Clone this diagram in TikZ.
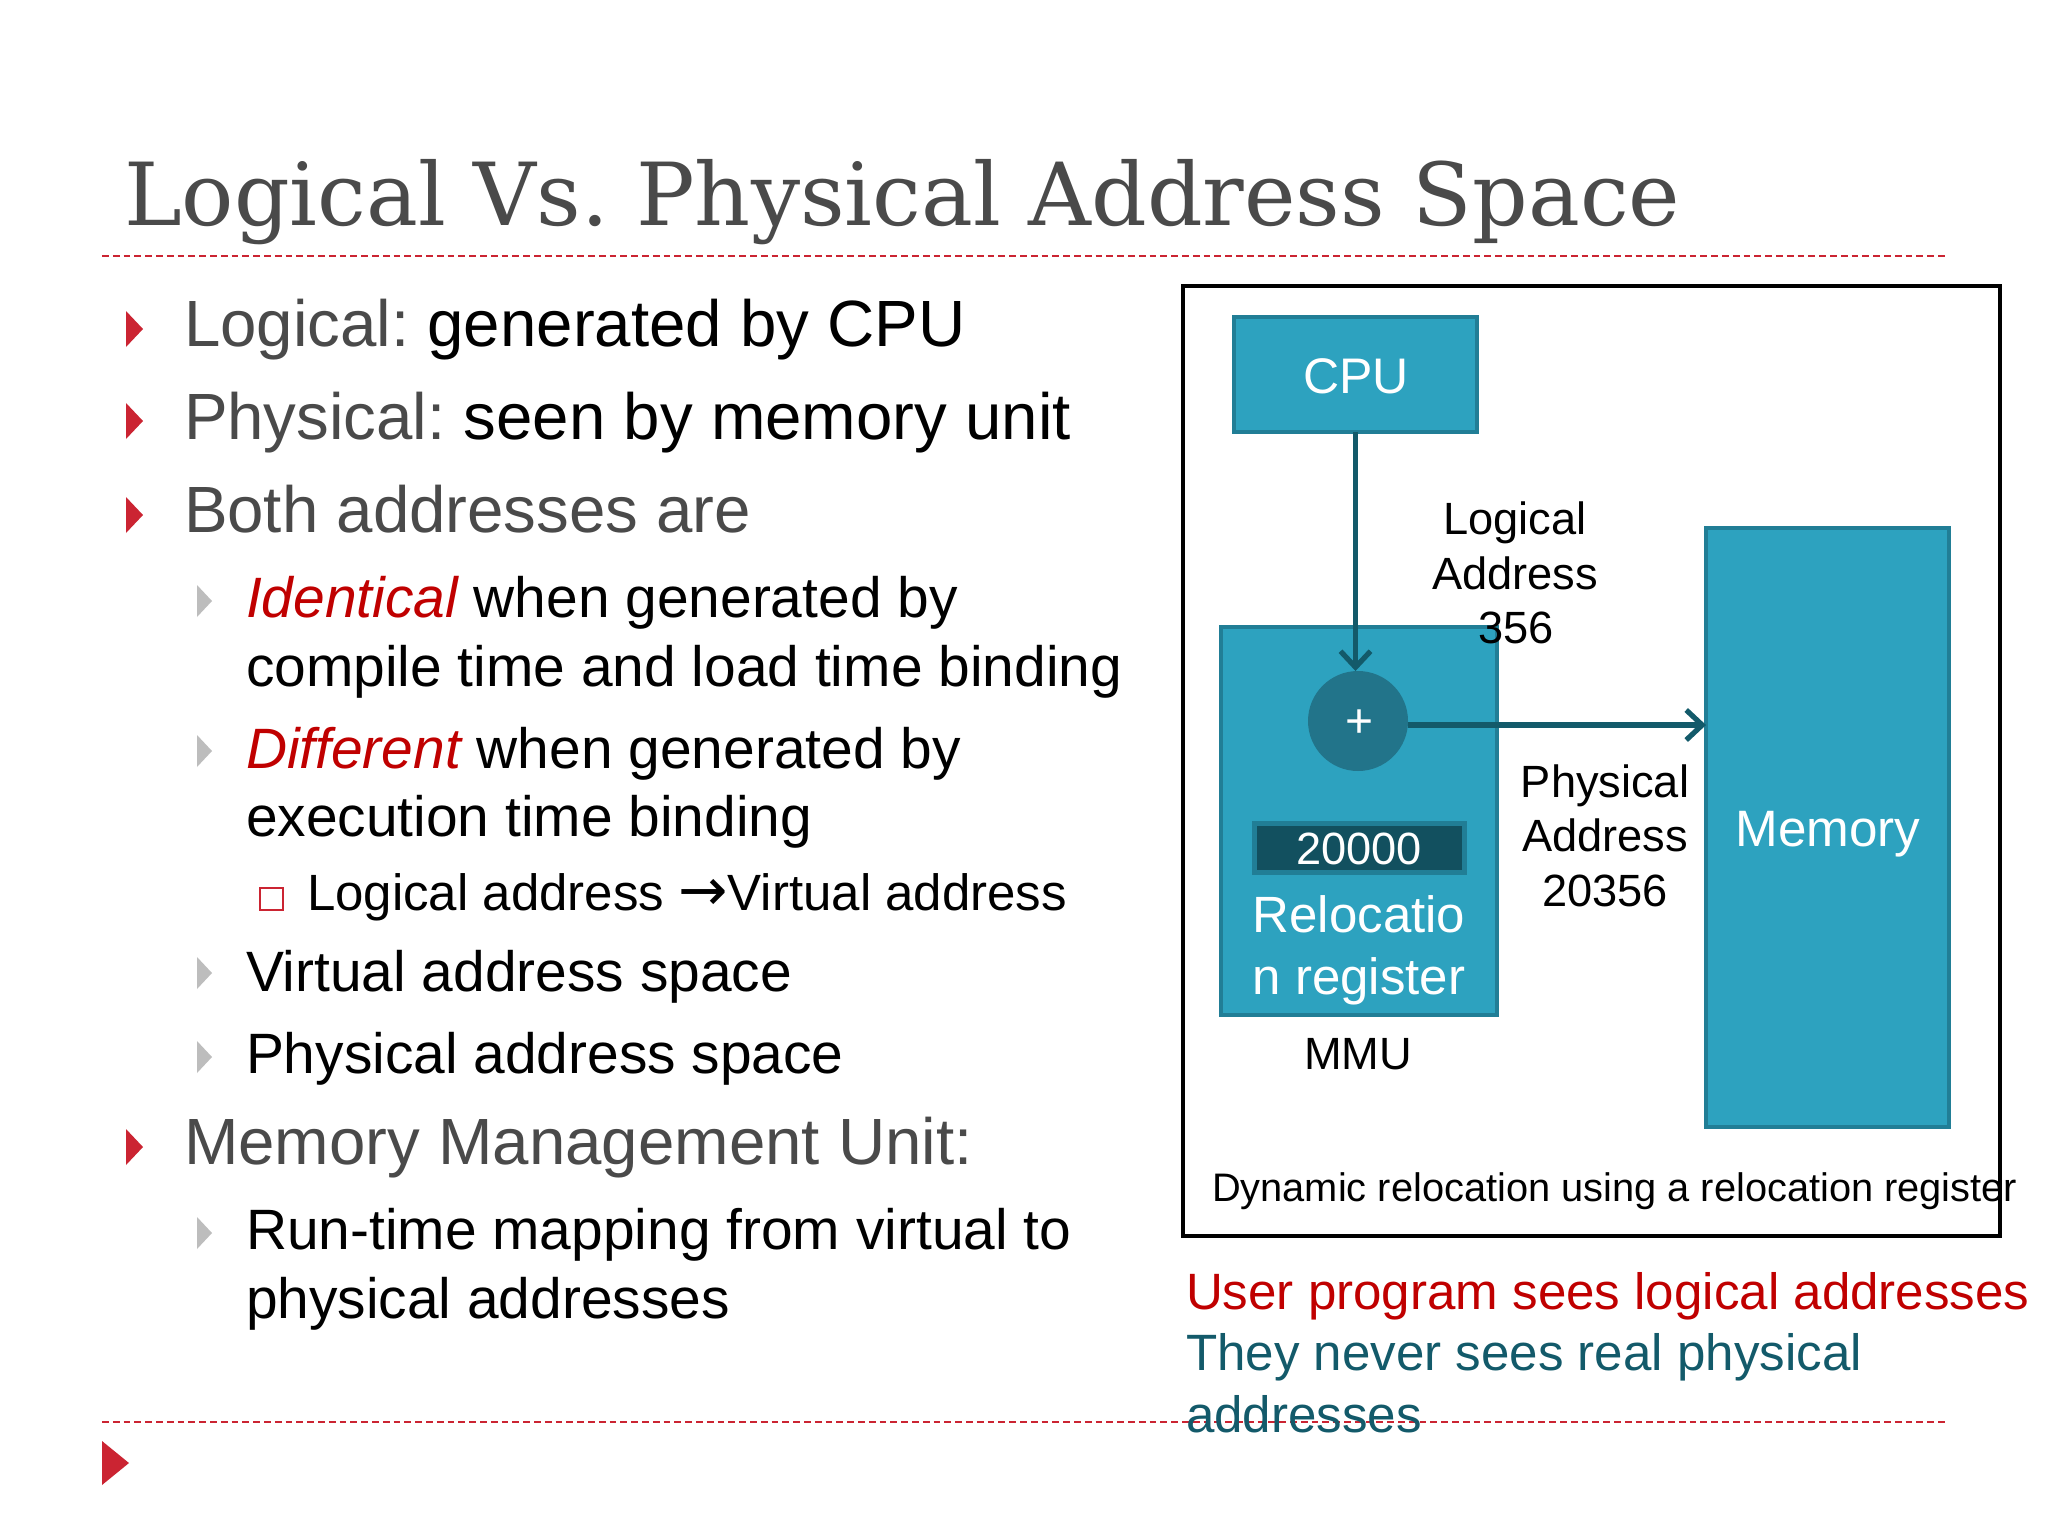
\documentclass[tikz,border=0pt]{standalone}
\usepackage{fontspec}
\setmainfont{Liberation Sans}
\newfontfamily\titlefont{DejaVu Serif}
\newfontfamily\arrowfont{DejaVu Sans}
\usetikzlibrary{arrows.meta}
\definecolor{teal1}{HTML}{2DA2BF}
\definecolor{tealedge}{HTML}{217E96}
\definecolor{tealdark}{HTML}{135A6A}
\definecolor{tealcirc}{HTML}{22748A}
\definecolor{regbox}{HTML}{12505F}
\definecolor{redm}{HTML}{C00000}
\definecolor{redb}{HTML}{CB2432}
\definecolor{gray1}{HTML}{4A4A4A}
\definecolor{gray2}{HTML}{BDBDBD}
\newcommand{\fs}[1]{\fontsize{#1}{#1}\selectfont}
\frenchspacing
\tikzset{
  x=0.5pt,y=-0.5pt,
  txt/.style={inner sep=0pt,outer sep=0pt,anchor=base west},
  cen/.style={inner sep=0pt,outer sep=0pt,anchor=base},
  lone/.style={txt,font=\fs{32.7}},
  ltwo/.style={txt,font=\fs{28.45}},
  lthree/.style={txt,font=\fs{25.5}},
  diag/.style={cen,font=\fs{22.6}},
  wtxt/.style={cen,text=white,font=\fs{25.5}},
  block/.style={draw=tealedge,fill=teal1,line width=1.8pt,inner sep=0pt,outer sep=0pt,anchor=north west},
  conn/.style={draw=tealdark,line width=2.8pt,-{Straight Barb[length=8pt,width=15pt,line width=2.6pt]}},
  rule/.style={draw=redb,line width=0.6pt,dash pattern=on 3.4pt off 2pt},
  redtri/.style={fill=redb},
  graytri/.style={fill=gray2},
}
\newcommand{\redbul}[1]{\fill[redtri] (126,#1-18) -- (143,#1) -- (126,#1+18) -- cycle;}
\newcommand{\graybul}[1]{\fill[graytri] (197,#1-16) -- (212,#1) -- (197,#1+16) -- cycle;}
\begin{document}
\begin{tikzpicture}
\useasboundingbox (0,0) rectangle (2048,1536);
\fill[white] (0,0) rectangle (2048,1536);
% title and rules
\node[txt,text=gray1,font={\titlefont\fs{43.5}}] (title) at (124,225) {Logical Vs. Physical Address Space};
\coordinate (r1a) at (102,256); \coordinate (r1b) at (1946,256);
\coordinate (r2a) at (102,1422); \coordinate (r2b) at (1946,1422);
\draw[rule] (r1a) -- (r1b);
\draw[rule] (r2a) -- (r2b);
% bullets
\redbul{329}\redbul{421}\redbul{515}\redbul{1147}
\graybul{601}\graybul{751}\graybul{973}\graybul{1057}\graybul{1233}
\draw[redb,line width=0.9pt] (260,888) rectangle (283,910);
\fill[redb] (102,1441) -- (129,1463) -- (102,1485) -- cycle;
% left text
\node[lone] (t1) at (184,346) {\textcolor{gray1}{Logical:} generated by CPU};
\node[lone] (t2) at (184,439) {\textcolor{gray1}{Physical:} seen by memory unit};
\node[lone,text=gray1] (t3) at (184,532) {Both addresses are};
\node[ltwo] (t4) at (246,617) {\textcolor{redm}{\itshape Identical} when generated by};
\node[ltwo] (t5) at (246,686) {compile time and load time binding};
\node[ltwo] (t6) at (246,768) {\textcolor{redm}{\itshape Different} when generated by};
\node[ltwo] (t7) at (246,836) {execution time binding};
\node[lthree] (t8) at (307,910) {Logical address {\arrowfont\fs{29.5}→}Virtual address};
\node[ltwo] (t9) at (246,991) {Virtual address space};
\node[ltwo] (t10) at (246,1073) {Physical address space};
\node[lone,text=gray1] (t11) at (184,1164) {Memory Management Unit:};
\node[ltwo] (t12) at (246,1249) {Run-time mapping from virtual to};
\node[ltwo] (t13) at (246,1318) {physical addresses};
% frame
\node[draw=black,line width=2pt,minimum width=408.5pt,minimum height=475pt,inner sep=0pt,anchor=north west] (frame) at (1181,284) {};
% blocks
\node[block,minimum width=121.5pt,minimum height=57.5pt] (cpu) at (1234,317) {};
\node[block,minimum width=138pt,minimum height=194pt] (mmu) at (1221,627) {};
\node[block,minimum width=121.5pt,minimum height=299.5pt] (mem) at (1706,528) {};
\node[circle,fill=tealcirc,minimum size=50pt,inner sep=0pt,outer sep=0pt] (plus) at (1358,721) {};
\node[draw=tealedge,fill=regbox,line width=2.4pt,minimum width=105pt,minimum height=24.5pt,inner sep=0pt,anchor=north west] (reg) at (1252,821) {};
% connectors
\draw[conn] (cpu.south) -- (cpu.south |- plus.north);
\draw[conn] ([yshift=-2pt]plus.east) -- ([yshift=-2pt]plus.east -| mem.west);
% labels
\node[wtxt,font=\fs{25}] (cpulab) at (1356,393) {CPU};
\node[txt,anchor=center,text=white,font=\fs{24}] (pluslab) at (1359,724) {+};
\node[diag,text=white] (reglab) at (1359,864) {20000};
\node[wtxt] (rel1) at (1359,932) {Relocatio};
\node[wtxt] (rel2) at (1359,994) {n register};
\node[wtxt,font=\fs{25.6}] (memlab) at (1828,846) {Memory};
\node[diag] (mmulab) at (1358,1069) {MMU};
\node[diag] (la1) at (1515,534) {Logical};
\node[diag] (la2) at (1515,589) {Address};
\node[diag] (la3) at (1516,643) {356};
\node[diag] (pa1) at (1605,797) {Physical};
\node[diag] (pa2) at (1605,851) {Address};
\node[diag] (pa3) at (1605,906) {20356};
\node[txt,font=\fs{19.9}] (dyn) at (1212,1201) {Dynamic relocation using a relocation register};
\node[txt,text=redm,font=\fs{25.55}] (u1) at (1186,1309) {User program sees logical addresses};
\node[txt,text=tealdark,font=\fs{25.55}] (u2) at (1186,1370) {They never sees real physical};
\node[txt,text=tealdark,font=\fs{25.55}] (u3) at (1186,1432) {addresses};
\end{tikzpicture}
\end{document}
